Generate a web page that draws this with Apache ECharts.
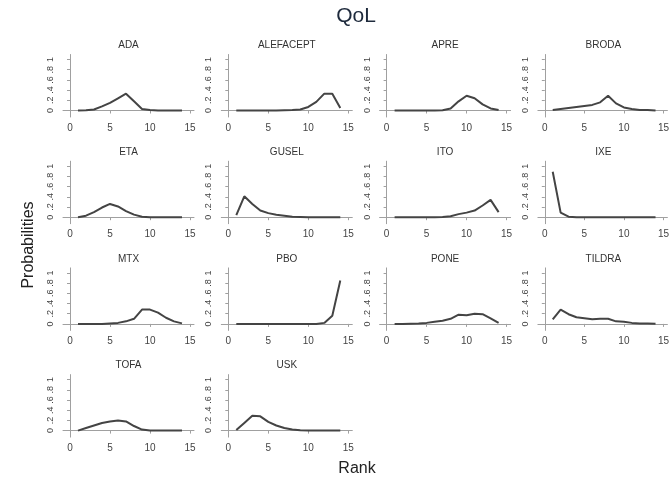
<!DOCTYPE html>
<html><head><meta charset="utf-8">
<script src="https://cdn.jsdelivr.net/npm/echarts@6/dist/echarts.min.js"></script>
<style>html,body{margin:0;padding:0;background:#fff}#c{width:672px;height:478px}</style>
</head><body><div id="c"></div>
<script>
const ranks = [1,2,3,4,5,6,7,8,9,10,11,12,13,14];
const xTicks = [0,5,10,15];
const yTicks = [0,0.2,0.4,0.6,0.8,1];
const yTickLabels = ['0','.2','.4','.6','.8','1'];
const treatments = ['ADA','ALEFACEPT','APRE','BRODA','ETA','GUSEL','ITO','IXE','MTX','PBO','PONE','TILDRA','TOFA','USK'];
const ADA       = [0,0.005,0.02,0.08,0.15,0.24,0.33,0.18,0.03,0.01,0,0,0,0];
const ALEFACEPT = [0,0,0,0,0,0,0.005,0.01,0.02,0.07,0.17,0.33,0.33,0.05];
const APRE      = [0,0,0,0,0,0,0.005,0.04,0.18,0.29,0.24,0.12,0.04,0.01];
const BRODA     = [0.01,0.03,0.05,0.07,0.09,0.11,0.16,0.29,0.14,0.06,0.03,0.01,0.01,0];
const ETA       = [0,0.03,0.1,0.19,0.26,0.21,0.12,0.05,0.01,0,0,0,0,0];
const GUSEL     = [0.04,0.41,0.26,0.13,0.08,0.05,0.03,0.01,0.005,0,0,0,0,0];
const ITO       = [0,0,0,0,0,0,0.005,0.02,0.06,0.09,0.13,0.23,0.34,0.1];
const IXE       = [0.89,0.09,0.01,0,0,0,0,0,0,0,0,0,0,0];
const MTX       = [0,0,0,0,0.01,0.02,0.05,0.1,0.28,0.28,0.22,0.12,0.05,0.01];
const PBO       = [0,0,0,0,0,0,0,0,0,0,0,0.02,0.16,0.85];
const PONE      = [0,0,0.005,0.01,0.02,0.04,0.06,0.1,0.18,0.17,0.2,0.19,0.11,0.02];
const TILDRA    = [0.09,0.28,0.19,0.13,0.11,0.09,0.1,0.1,0.05,0.04,0.02,0.01,0.01,0.005];
const TOFA      = [0,0.05,0.1,0.15,0.18,0.2,0.18,0.09,0.02,0,0,0,0,0];
const USK       = [0.01,0.15,0.29,0.28,0.17,0.1,0.05,0.02,0.005,0,0,0,0,0];
const values = [ADA,ALEFACEPT,APRE,BRODA,ETA,GUSEL,ITO,IXE,MTX,PBO,PONE,TILDRA,TOFA,USK];

const FONT = '"Liberation Sans", Arial, sans-serif';
const grids = [], xAxes = [], yAxes = [], series = [], titles = [];
const PXX = 8, PXY = 51;
treatments.forEach((name, i) => {
  const c = i % 4, r = Math.floor(i / 4);
  const x0 = 70 + 158.3 * c;      // pixel of rank 0
  const y0 = 110.5 + 106.7 * r;   // pixel of prob 0
  const left = x0 - 7, width = 131, top = y0 - 56, height = 62.5;
  grids.push({left: left, top: top, width: width, height: height, containLabel: false});
  xAxes.push({
    type: 'value', gridIndex: i, min: -7 / PXX, max: -7 / PXX + width / PXX,
    axisLine: {show: true, lineStyle: {color: '#a0a0a0', width: 1}},
    axisTick: {show: true, length: 3, customValues: xTicks, lineStyle: {color: '#a0a0a0'}},
    axisLabel: {customValues: xTicks, color: '#444', fontSize: 10, fontFamily: FONT, margin: 6},
    splitLine: {show: false}
  });
  yAxes.push({
    type: 'value', gridIndex: i, min: -6.5 / PXY, max: -6.5 / PXY + height / PXY,
    axisLine: {show: true, lineStyle: {color: '#a0a0a0', width: 1}},
    axisTick: {show: true, length: 3, customValues: yTicks, lineStyle: {color: '#a0a0a0'}},
    axisLabel: {customValues: yTicks, rotate: 90, color: '#444', fontSize: 9, fontFamily: FONT, margin: 8,
      formatter: v => yTickLabels[yTicks.findIndex(t => Math.abs(t - v) < 1e-6)]},
    splitLine: {show: false}
  });
  series.push({
    type: 'line', xAxisIndex: i, yAxisIndex: i, showSymbol: false, symbol: 'none',
    data: ranks.map((rk, k) => [rk, values[i][k]]),
    lineStyle: {color: '#444', width: 2}, silent: true
  });
  titles.push({
    text: name, left: left + width / 2, top: y0 - 70, textAlign: 'center', padding: 0,
    textStyle: {fontSize: 10, fontWeight: 'normal', color: '#333', fontFamily: FONT}
  });
});
titles.push({text: 'QoL', left: 356, top: 6, textAlign: 'center', padding: 0,
  textStyle: {fontSize: 21, fontWeight: 'normal', color: '#1e2a3c', fontFamily: FONT}});
titles.push({text: 'Rank', left: 357, top: 461, textAlign: 'center', padding: 0,
  textStyle: {fontSize: 16, fontWeight: 'normal', color: '#222', fontFamily: FONT}});

const chart = echarts.init(document.getElementById('c'), null, {renderer: 'canvas'});
chart.setOption({
  animation: false,
  backgroundColor: '#fff',
  title: titles,
  grid: grids, xAxis: xAxes, yAxis: yAxes, series: series,
  graphic: [{
    type: 'text', x: 29, y: 245, rotation: Math.PI / 2,
    style: {text: 'Probabilities', fontSize: 16, fill: '#222', fontFamily: FONT, align: 'center', verticalAlign: 'middle'}
  }]
});
</script></body></html>
